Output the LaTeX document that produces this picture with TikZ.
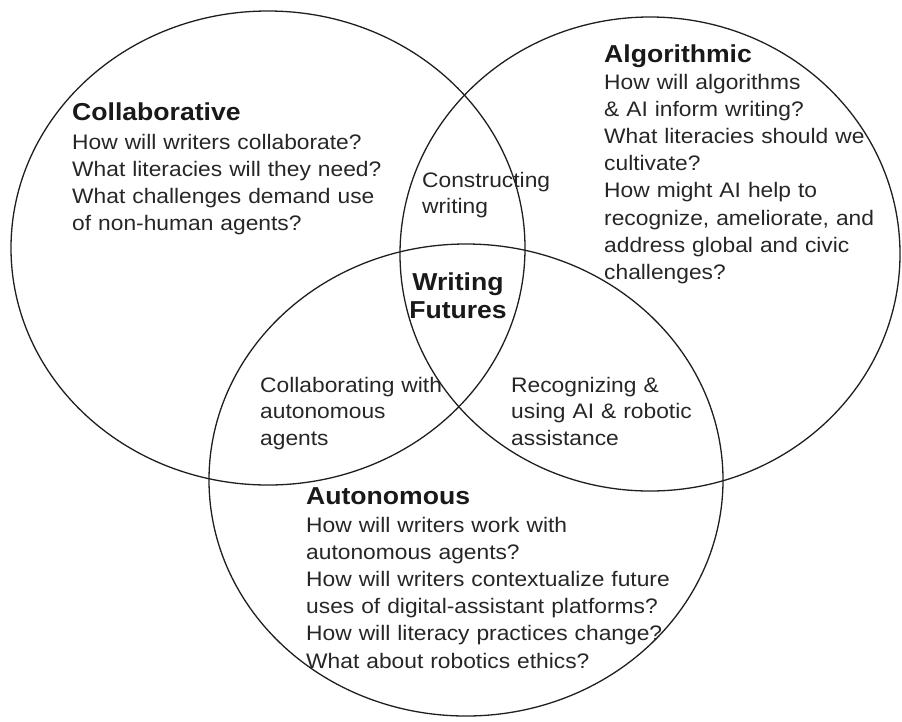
\documentclass[tikz,border=0pt]{standalone}
\usepackage{fontspec}
\setmainfont[FakeStretch=1.085]{Liberation Sans}
\begin{document}
\begin{tikzpicture}[x=1pt,y=-1pt,
  setline/.style={draw=black!88, line width=1.3pt},
  heading/.style={anchor=base west, inner sep=0pt, text=black!90,
    font=\fontsize{24.5}{29}\selectfont\bfseries},
  bodytext/.style={anchor=base west, inner sep=0pt, text=black!85,
    text width=420pt, align=left,
    font=\fontsize{21}{27.2}\selectfont},
  overlap/.style={anchor=base west, inner sep=0pt, text=black!85,
    text width=200pt, align=left,
    font=\fontsize{21}{26.5}\selectfont}]
  \useasboundingbox (0,0) rectangle (902,721);

  % the three sets
  \draw[setline] (268,248) ellipse [x radius=257, y radius=237];
  \draw[setline] (650,254) ellipse [x radius=250, y radius=237];
  \draw[setline] (466,480) ellipse [x radius=257, y radius=236];

  % Collaborative
  \node[heading] (colltitle) at (72,120) {Collaborative};
  \node[bodytext] (collbody) at (72,149) {How will writers collaborate?\\
    What literacies will they need?\\
    What challenges demand use\\
    of non-human agents?};

  % Algorithmic
  \node[heading] (algtitle) at (604,62) {Algorithmic};
  \node[bodytext] (algbody) at (604,89) {How will algorithms\\
    \& AI inform writing?\\
    What literacies should we\\
    cultivate?\\
    How might AI help to\\
    recognize, ameliorate, and\\
    address global and civic\\
    challenges?};

  % Autonomous
  \node[heading] (auttitle) at (306,504) {Autonomous};
  \node[bodytext] (autbody) at (306,532) {How will writers work with\\
    autonomous agents?\\
    How will writers contextualize future\\
    uses of digital-assistant platforms?\\
    How will literacy practices change?\\
    What about robotics ethics?};

  % pairwise overlaps
  \node[overlap] (constructing) at (422,187) {Constructing\\writing};
  \node[overlap] (collaborating) at (260,392) {Collaborating with\\autonomous\\agents};
  \node[overlap] (recognizing) at (511,392) {Recognizing \&\\using AI \& robotic\\assistance};

  % centre
  \node[anchor=base, inner sep=0pt, text=black!90, text width=130pt, align=center,
    font=\fontsize{24.5}{28}\selectfont\bfseries] (centre) at (458,290) {Writing\\Futures};
\end{tikzpicture}
\end{document}
